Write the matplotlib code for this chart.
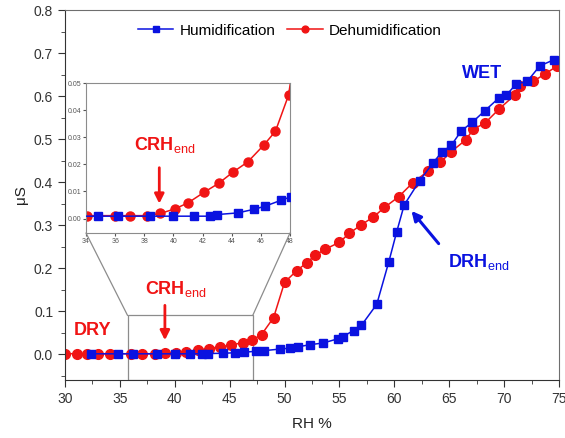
import matplotlib
matplotlib.use("Agg")
import matplotlib.pyplot as plt
from matplotlib.patches import Rectangle, ConnectionPatch
from matplotlib.ticker import MultipleLocator

plt.rcParams['font.family'] = ['Liberation Sans', 'DejaVu Sans']
plt.rcParams['mathtext.fontset'] = 'custom'
plt.rcParams['mathtext.rm'] = 'Liberation Sans'

# Humidification branch (RH %, conductance)
hum_rh = [32.4, 34.8, 36.2, 38.4, 40.0, 41.4, 42.5, 43.0, 44.4, 45.5, 46.3, 47.4,
          48.1, 49.6, 50.5, 51.2, 52.3, 53.5, 54.9, 55.3, 56.3, 57.0, 58.4, 59.5,
          60.2, 60.9, 62.3, 63.5, 64.3, 65.2, 66.1, 67.1, 68.25, 69.5, 70.2, 71.1,
          72.1, 73.25, 74.5]
hum_s = [0.0009, 0.0009, 0.0009, 0.0009, 0.0009, 0.0009, 0.0009, 0.0015, 0.0021,
         0.0034, 0.0046, 0.0068, 0.0081, 0.012, 0.014, 0.017, 0.022, 0.026, 0.036,
         0.041, 0.055, 0.067, 0.116, 0.215, 0.283, 0.347, 0.403, 0.444, 0.469,
         0.486, 0.519, 0.539, 0.566, 0.595, 0.602, 0.628, 0.634, 0.670, 0.684]

# Dehumidification branch
dehum_rh = [30.0, 31.1, 32.0, 33.0, 34.1, 36.0, 37.0, 38.2, 39.1, 40.1, 41.0, 42.1,
            43.1, 44.1, 45.1, 46.2, 47.0, 47.9, 49.0, 50.0, 51.1, 52.0, 52.8, 53.7,
            55.0, 55.9, 57.0, 58.1, 59.1, 60.4, 61.7, 63.1, 64.2, 65.2, 66.5, 67.2,
            68.25, 69.55, 71.0, 71.45, 72.65, 73.7, 74.85]
dehum_s = [0.0011, 0.0011, 0.0011, 0.0011, 0.0011, 0.0011, 0.0011, 0.0011, 0.0019,
           0.0036, 0.0058, 0.0097, 0.013, 0.0172, 0.0209, 0.0271, 0.0322, 0.0455,
           0.085, 0.167, 0.194, 0.212, 0.230, 0.244, 0.260, 0.281, 0.301, 0.319,
           0.341, 0.366, 0.399, 0.426, 0.446, 0.471, 0.498, 0.523, 0.537, 0.570,
           0.603, 0.623, 0.634, 0.651, 0.670]

BLUE = '#0a12e0'
RED = '#f01414'
FRAME = '#6e6e6e'
LABEL_END = r'CRH$_{\mathrm{end}}$'
LABEL_DRH = r'DRH$_{\mathrm{end}}$'

fig = plt.figure(figsize=(5.65, 4.38), dpi=100)
ax = fig.add_axes([65 / 565, 1 - 380 / 438, 494 / 565, 370 / 438])

ax.plot(hum_rh, hum_s, '-s', color=BLUE, lw=1.1, ms=5.5, label='Humidification', zorder=3)
ax.plot(dehum_rh, dehum_s, '-o', color=RED, lw=1.1, ms=7, label='Dehumidification', zorder=2)

ax.set_xlim(30, 75)
ax.set_ylim(-0.06, 0.8)
ax.xaxis.set_major_locator(MultipleLocator(5))
ax.xaxis.set_minor_locator(MultipleLocator(2.5))
ax.yaxis.set_major_locator(MultipleLocator(0.1))
ax.yaxis.set_minor_locator(MultipleLocator(0.05))
ax.tick_params(which='both', direction='out', labelsize=10, colors='#333333')
ax.tick_params(which='major', length=5)
ax.tick_params(which='minor', length=3)
ax.set_yticks([0.0, 0.1, 0.2, 0.3, 0.4, 0.5, 0.6, 0.7, 0.8])
ax.set_yticklabels(['0.0', '0.1', '0.2', '0.3', '0.4', '0.5', '0.6', '0.7', '0.8'])
for side in ['left', 'bottom']:
    ax.spines[side].set_color('#333333')
for side in ['top', 'right']:
    ax.spines[side].set_color(FRAME)
ax.set_xlabel('RH %', fontsize=11, color='#222222', labelpad=8)
ax.set_ylabel('μS', fontsize=11, color='#222222', labelpad=4)

ax.legend(loc='upper center', bbox_to_anchor=(0.455, 1.0), ncol=2, frameon=False,
          fontsize=11, handlelength=2.3, columnspacing=0.8, handletextpad=0.4,
          markerscale=0.7)

# annotations on main axes
ax.text(32.5, 0.055, 'DRY', color=RED, fontsize=13, fontweight='bold',
        ha='center', va='center')
ax.text(37.3, 0.14, LABEL_END, color=RED, fontsize=13, fontweight='bold')
ax.annotate('', xy=(39.1, 0.026), xytext=(39.1, 0.12),
            arrowprops=dict(arrowstyle='-|>', color=RED, lw=2, mutation_scale=14))
ax.text(68.0, 0.653, 'WET', color=BLUE, fontsize=13, fontweight='bold',
        ha='center', va='center')
ax.text(64.9, 0.202, LABEL_DRH, color=BLUE, fontsize=13, fontweight='bold')
ax.annotate('', xy=(61.4, 0.338), xytext=(64.2, 0.252),
            arrowprops=dict(arrowstyle='-|>', color=BLUE, lw=2.2, mutation_scale=14))

# zoom window
rx0, rx1, ry0, ry1 = 35.7, 47.1, -0.06, 0.09
ax.add_patch(Rectangle((rx0, ry0), rx1 - rx0, ry1 - ry0, fill=False,
                       edgecolor='#8c8c8c', lw=0.9, zorder=1))

# inset
axin = fig.add_axes([86 / 565, 1 - 233 / 438, 204 / 565, 150 / 438])
axin.plot(hum_rh, hum_s, '-s', color=BLUE, lw=1.1, ms=5.5, zorder=3)
axin.plot(dehum_rh, dehum_s, '-o', color=RED, lw=1.1, ms=6.5, zorder=2)
axin.set_xlim(34, 48)
axin.set_ylim(-0.0053, 0.05)
axin.xaxis.set_major_locator(MultipleLocator(2))
axin.set_yticks([0.0, 0.01, 0.02, 0.03, 0.04, 0.05])
axin.set_yticklabels(['0.00', '0.01', '0.02', '0.03', '0.04', '0.05'])
axin.tick_params(labelsize=5, length=2, colors='#555555', pad=1.5)
for s in axin.spines.values():
    s.set_color('#8c8c8c')
axin.text(37.3, 0.0253, LABEL_END, color=RED, fontsize=13, fontweight='bold')
axin.annotate('', xy=(39.03, 0.0045), xytext=(39.03, 0.0198),
              arrowprops=dict(arrowstyle='-|>', color=RED, lw=2, mutation_scale=14))

for (xa, xb) in [(rx0, 34), (rx1, 48)]:
    con = ConnectionPatch(xyA=(xa, ry1), coordsA=ax.transData,
                          xyB=(xb, -0.0053), coordsB=axin.transData,
                          color='#8c8c8c', lw=0.9)
    fig.add_artist(con)

fig.savefig('out.png', dpi=100)
